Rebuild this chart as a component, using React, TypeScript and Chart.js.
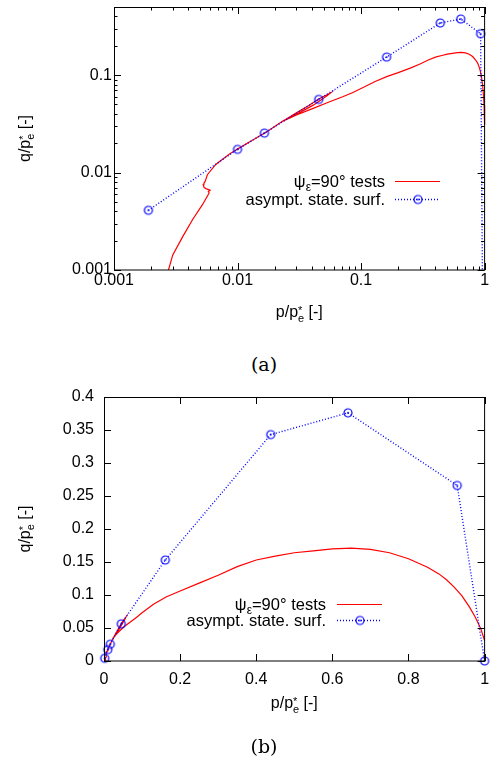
import React, { useEffect, useRef } from 'react';
import { Chart, registerables } from 'chart.js';
Chart.register(...registerables);

// asymptotic state surface points (p/p*e, q/p*e)
const blueP = [0.0019, 0.01, 0.0165, 0.0454, 0.161, 0.438, 0.641, 0.928, 1.0];
const blueQ = [0.0041, 0.0173, 0.0254, 0.0563, 0.153, 0.343, 0.376, 0.266, 0];

// psi_eps = 90 deg tests path
const redP = [0.0025, 0.00276, 0.00299, 0.0036, 0.00432, 0.0052, 0.00589, 0.0058, 0.006, 0.0056, 0.00537, 0.00527, 0.00535, 0.00547, 0.0057, 0.00666, 0.0085, 0.0099, 0.0135, 0.0175, 0.0228, 0.03, 0.038, 0.045, 0.051, 0.057, 0.053, 0.047, 0.041, 0.034, 0.028, 0.0228,
  0.03, 0.04, 0.055, 0.071, 0.085, 0.1, 0.13, 0.163, 0.2, 0.25, 0.3, 0.35, 0.4, 0.45, 0.5, 0.55, 0.6, 0.65, 0.7, 0.75, 0.8, 0.85, 0.88, 0.9, 0.92, 0.94, 0.96, 0.975, 0.99, 1.0];
const redQ = [0.0008, 0.001, 0.00143, 0.0022, 0.00328, 0.00468, 0.00618, 0.0064, 0.0066, 0.0068, 0.007, 0.0075, 0.0078, 0.0081, 0.0095, 0.0121, 0.0153, 0.0173, 0.0218, 0.0266, 0.0333, 0.041, 0.049, 0.0565, 0.0615, 0.066, 0.0612, 0.0552, 0.0492, 0.0432, 0.0378, 0.0333,
  0.039, 0.045, 0.053, 0.06, 0.066, 0.073, 0.086, 0.097, 0.106, 0.118, 0.13, 0.143, 0.153, 0.159, 0.164, 0.167, 0.17, 0.171, 0.169, 0.164, 0.155, 0.142, 0.132, 0.123, 0.112, 0.099, 0.082, 0.067, 0.049, 0.031];

const logXTicks = [0.001, 0.01, 0.1, 1];
const logYTicks = [0.001, 0.01, 0.1];
const linXTicks = [0, 0.2, 0.4, 0.6, 0.8, 1];
const linYTicks = [0, 0.05, 0.1, 0.15, 0.2, 0.25, 0.3, 0.35, 0.4];

const legendRed = [{ t: 'ψ' }, { t: 'ε', k: 'sub' }, { t: '=90° tests' }];
const legendBlue = [{ t: 'asympt. state. surf.' }];
const xTitle = [{ t: 'p/p' }, { k: 'supsub', t: '*', s: 'e' }, { t: ' [-]' }];
const yTitle = [{ t: 'q/p' }, { k: 'supsub', t: '*', s: 'e' }, { t: ' [-]' }];

const FONT = "'Liberation Sans', Arial, Helvetica, sans-serif";
const RED = '#ff0000';
const BLUE = '#0000ff';

type Part = { t: string; k?: string; s?: string };

function makeMarker() {
  const c = document.createElement('canvas');
  c.width = 12;
  c.height = 12;
  const g = c.getContext('2d')!;
  g.strokeStyle = BLUE;
  g.lineWidth = 1.2;
  g.beginPath();
  g.arc(6, 6, 4, 0, Math.PI * 2);
  g.stroke();
  g.fillStyle = BLUE;
  g.beginPath();
  g.arc(6, 6, 0.9, 0, Math.PI * 2);
  g.fill();
  return c;
}

function richWidth(ctx: CanvasRenderingContext2D, parts: Part[], size: number) {
  const small = Math.round(size * 0.7);
  let w = 0;
  for (const p of parts) {
    if (!p.k) {
      ctx.font = `${size}px ${FONT}`;
      w += ctx.measureText(p.t).width;
    } else {
      ctx.font = `${small}px ${FONT}`;
      const a = ctx.measureText(p.t).width;
      const b = p.s ? ctx.measureText(p.s).width : 0;
      w += Math.max(a, b);
    }
  }
  return w;
}

function drawRich(ctx: CanvasRenderingContext2D, parts: Part[], x: number, base: number, align: string, size: number) {
  const small = Math.round(size * 0.7);
  const w = richWidth(ctx, parts, size);
  let cx = align === 'center' ? x - w / 2 : align === 'right' ? x - w : x;
  ctx.textAlign = 'left';
  ctx.textBaseline = 'alphabetic';
  ctx.fillStyle = '#000';
  for (const p of parts) {
    if (!p.k) {
      ctx.font = `${size}px ${FONT}`;
      ctx.fillText(p.t, cx, base);
      cx += ctx.measureText(p.t).width;
    } else if (p.k === 'sub') {
      ctx.font = `${small}px ${FONT}`;
      ctx.fillText(p.t, cx, base + size * 0.22);
      cx += ctx.measureText(p.t).width;
    } else {
      ctx.font = `${small}px ${FONT}`;
      ctx.fillText(p.t, cx, base - size * 0.18);
      if (p.s) ctx.fillText(p.s, cx, base + size * 0.3);
      const a = ctx.measureText(p.t).width;
      const b = p.s ? ctx.measureText(p.s).width : 0;
      cx += Math.max(a, b);
    }
  }
}

type Spec = {
  log: boolean;
  xMajor: number[];
  yMajor: number[];
  yTitleX: number;
  xTitleBase: number;
  legendRight: number;
  lineX: [number, number];
  rowY: [number, number];
  marker: HTMLCanvasElement;
};

function makePlugin(spec: Spec) {
  return {
    id: 'gnuplotFrame',
    afterDraw(chart: any) {
      const ctx: CanvasRenderingContext2D = chart.ctx;
      const { left, right, top, bottom } = chart.chartArea;
      const xs = chart.scales.x;
      const ys = chart.scales.y;
      ctx.save();
      ctx.strokeStyle = '#000';
      ctx.lineWidth = 1;
      ctx.setLineDash([]);
      ctx.beginPath();
      const tx = (v: number, len: number) => {
        const px = Math.round(xs.getPixelForValue(v)) + 0.5;
        ctx.moveTo(px, bottom);
        ctx.lineTo(px, bottom - len);
        ctx.moveTo(px, top);
        ctx.lineTo(px, top + len);
      };
      const ty = (v: number, len: number) => {
        const py = Math.round(ys.getPixelForValue(v)) + 0.5;
        ctx.moveTo(left, py);
        ctx.lineTo(left + len, py);
        ctx.moveTo(right, py);
        ctx.lineTo(right - len, py);
      };
      spec.xMajor.forEach((v) => tx(v, 7));
      spec.yMajor.forEach((v) => ty(v, 7));
      if (spec.log) {
        for (const d of [0.001, 0.01, 0.1]) {
          for (let k = 2; k <= 9; k++) {
            const v = k * d;
            if (v > xs.min && v < xs.max) tx(v, 3.5);
            if (v > ys.min && v < ys.max) ty(v, 3.5);
          }
        }
      }
      ctx.stroke();
      ctx.strokeRect(left + 0.5, top + 0.5, right - left - 0.5, bottom - top - 0.5);

      // axis titles
      drawRich(ctx, xTitle, (left + right) / 2, spec.xTitleBase, 'center', 16);
      ctx.save();
      ctx.translate(spec.yTitleX, (top + bottom) / 2);
      ctx.rotate(-Math.PI / 2);
      drawRich(ctx, yTitle, 0, 0, 'center', 16);
      ctx.restore();

      // legend
      const [x0, x1] = spec.lineX;
      drawRich(ctx, legendRed, spec.legendRight, spec.rowY[0] + 6, 'right', 16.5);
      drawRich(ctx, legendBlue, spec.legendRight, spec.rowY[1] + 6, 'right', 16.5);
      ctx.lineWidth = 1.2;
      ctx.strokeStyle = RED;
      ctx.beginPath();
      ctx.moveTo(x0, spec.rowY[0] + 0.5);
      ctx.lineTo(x1, spec.rowY[0] + 0.5);
      ctx.stroke();
      ctx.strokeStyle = BLUE;
      ctx.lineWidth = 1.4;
      ctx.setLineDash([1, 2]);
      ctx.beginPath();
      ctx.moveTo(x0, spec.rowY[1] + 0.5);
      ctx.lineTo(x1, spec.rowY[1] + 0.5);
      ctx.stroke();
      ctx.setLineDash([]);
      ctx.drawImage(spec.marker, Math.round((x0 + x1) / 2) - 6, Math.round(spec.rowY[1]) - 5.5);
      ctx.restore();
    },
  };
}

const fmt = (v: number) => String(parseFloat(Number(v).toFixed(3)));

function buildConfig(log: boolean, marker: HTMLCanvasElement): any {
  const tickFont = { family: FONT, size: 16 };
  const xTicks = log ? logXTicks : linXTicks;
  const yTicks = log ? logYTicks : linYTicks;
  const clip = log ? { left: 0, top: 6, right: 6, bottom: 0 } : false;
  const blueData = blueP.map((p, i) => ({ x: p, y: log && blueQ[i] <= 0 ? 1e-6 : blueQ[i] }));
  const redData = redP.map((p, i) => ({ x: p, y: redQ[i] }));
  const spec: Spec = log
    ? { log, xMajor: xTicks, yMajor: yTicks, yTitleX: 29.5, xTitleBase: 317, legendRight: 385, lineX: [395, 440], rowY: [181, 199], marker }
    : { log, xMajor: xTicks, yMajor: yTicks, yTitleX: 29.5, xTitleBase: 328, legendRight: 326, lineX: [337, 382], rowY: [224, 240], marker };
  return {
    type: 'line',
    data: {
      datasets: [
        {
          label: 'asympt. state. surf.',
          data: blueData,
          borderColor: BLUE,
          borderWidth: 1.4,
          borderDash: [1, 2],
          pointStyle: marker,
          pointRadius: 4,
          pointHoverRadius: 4,
          fill: false,
          tension: 0,
          clip,
        },
        {
          label: 'ψε=90° tests',
          data: redData,
          borderColor: RED,
          borderWidth: 1.2,
          pointRadius: 0,
          fill: false,
          tension: 0,
          clip,
        },
      ],
    },
    options: {
      animation: false,
      responsive: false,
      maintainAspectRatio: false,
      devicePixelRatio: 1,
      events: [],
      layout: { padding: log ? { left: 0, right: 2, top: 7, bottom: 0 } : { left: 0, right: 2, top: 17, bottom: 0 } },
      plugins: { legend: { display: false }, tooltip: { enabled: false } },
      scales: {
        x: {
          type: log ? 'logarithmic' : 'linear',
          position: 'bottom',
          min: log ? 0.001 : 0,
          max: 1,
          grid: { display: false, drawTicks: false },
          border: { display: false },
          ticks: { font: tickFont, color: '#000', padding: log ? 1 : 9, maxRotation: 0, autoSkip: false, callback: (v: number) => fmt(v) },
          afterBuildTicks: (s: any) => {
            s.ticks = xTicks.map((v) => ({ value: v }));
          },
          afterFit: (s: any) => {
            s.height = log ? 70 : 105;
            s.paddingLeft = 0;
            s.paddingRight = 0;
          },
        },
        y: {
          type: log ? 'logarithmic' : 'linear',
          min: log ? 0.001 : 0,
          max: log ? 0.5 : 0.4,
          grid: { display: false, drawTicks: false },
          border: { display: false },
          ticks: { font: tickFont, color: '#000', padding: log ? 2 : 10, autoSkip: false, callback: (v: number) => fmt(v) },
          afterBuildTicks: (s: any) => {
            s.ticks = yTicks.map((v) => ({ value: v }));
          },
          afterFit: (s: any) => {
            s.width = log ? 114 : 104;
            s.paddingTop = 0;
            s.paddingBottom = 0;
          },
        },
      },
    },
    plugins: [makePlugin(spec)],
  };
}

export default function App() {
  const ref1 = useRef<HTMLCanvasElement>(null);
  const ref2 = useRef<HTMLCanvasElement>(null);
  useEffect(() => {
    const marker = makeMarker();
    const c1 = new Chart(ref1.current!, buildConfig(true, marker));
    const c2 = new Chart(ref2.current!, buildConfig(false, marker));
    return () => {
      c1.destroy();
      c2.destroy();
    };
  }, []);
  const cap: React.CSSProperties = {
    position: 'absolute',
    left: 214,
    width: 100,
    textAlign: 'center',
    fontFamily: "'DejaVu Serif', serif",
    fontSize: 19,
    lineHeight: '24px',
    color: '#000',
  };
  return (
    <div style={{ position: 'fixed', left: 0, top: 0, width: 490, height: 766, background: '#fff', overflow: 'hidden' }}>
      <canvas ref={ref1} width={490} height={340} style={{ position: 'absolute', left: 0, top: 0, width: 490, height: 340 }} />
      <canvas ref={ref2} width={490} height={386} style={{ position: 'absolute', left: 0, top: 380, width: 490, height: 386 }} />
      <div style={{ ...cap, top: 352 }}>(a)</div>
      <div style={{ ...cap, top: 734 }}>(b)</div>
    </div>
  );
}
